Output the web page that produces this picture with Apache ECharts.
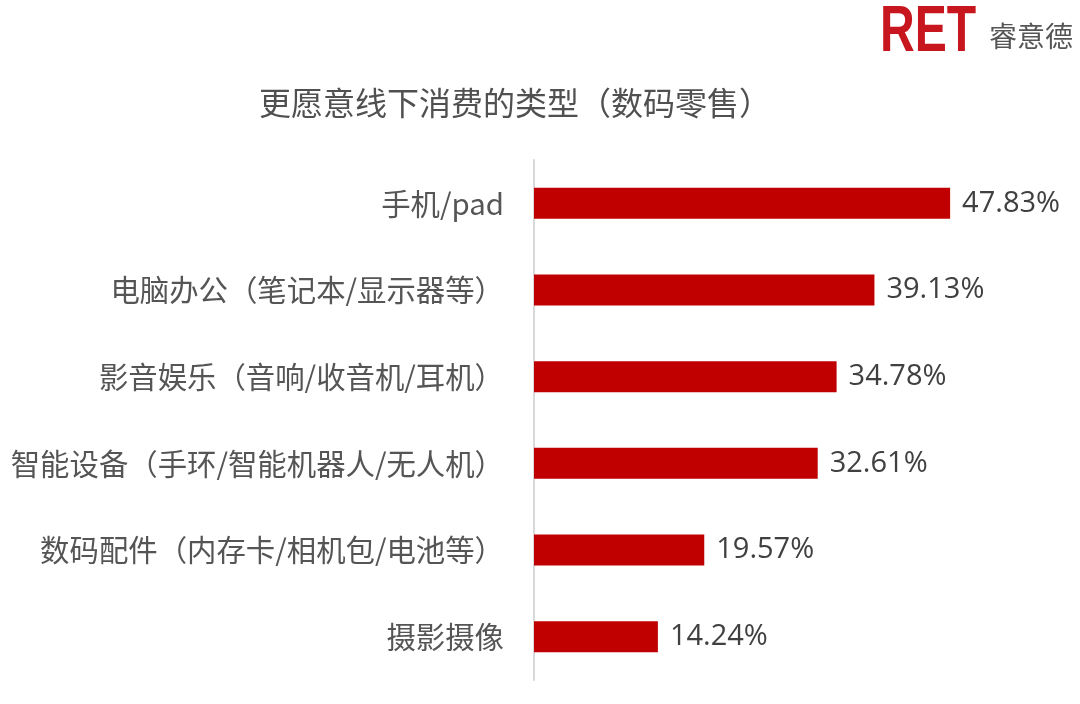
<!DOCTYPE html>
<html>
<head>
<meta charset="utf-8">
<script src="https://cdn.jsdelivr.net/npm/echarts@6/dist/echarts.min.js"></script>
<style>
html,body{margin:0;padding:0;background:#fff;}
#chart{width:1080px;height:704px;}
</style>
</head>
<body>
<div id="chart"></div>
<script>
var categories = ['手机/pad', '电脑办公（笔记本/显示器等）', '影音娱乐（音响/收音机/耳机）', '智能设备（手环/智能机器人/无人机）', '数码配件（内存卡/相机包/电池等）', '摄影摄像'];
var values = [47.83, 39.13, 34.78, 32.61, 19.57, 14.24];
var titleText = '更愿意线下消费的类型（数码零售）';

var chart = echarts.init(document.getElementById('chart'));
var cjk = '"Noto Sans CJK SC", "Noto Sans", sans-serif';
chart.setOption({
  backgroundColor: '#ffffff',
  animation: false,
  title: {
    text: titleText,
    left: 510,
    textAlign: 'center',
    top: 82,
    textStyle: { fontFamily: cjk, fontSize: 32, fontWeight: 'normal', color: '#505050' }
  },
  graphic: [
    {
      type: 'text', left: 880, top: 1, scaleX: 0.74,
      style: { text: 'RET', fontFamily: '"Liberation Sans", Arial, sans-serif', fontWeight: 'bold', fontSize: 65, fill: '#c8161e' }
    },
    {
      type: 'text', left: 989, top: 22,
      style: { text: '睿意德', fontFamily: cjk, fontSize: 28, fill: '#555555' }
    }
  ],
  grid: { left: 534, right: 111, top: 160, bottom: 24, containLabel: false },
  xAxis: {
    type: 'value', min: 0, max: 50, show: false
  },
  yAxis: {
    type: 'category', data: categories, inverse: true,
    axisLine: { show: true, lineStyle: { color: '#d9d9d9', width: 2 } },
    axisTick: { show: false },
    axisLabel: { margin: 30, fontFamily: cjk, fontSize: 29.4, color: '#555555' }
  },
  series: [{
    type: 'bar', data: values, barWidth: 31,
    itemStyle: { color: '#c00000' },
    label: {
      show: true, position: 'right', distance: 12,
      formatter: function (p) { return p.value.toFixed(2) + '%'; },
      fontFamily: '"Open Sans", "Noto Sans", sans-serif', fontSize: 29, color: '#404040'
    }
  }]
});
</script>
</body>
</html>
